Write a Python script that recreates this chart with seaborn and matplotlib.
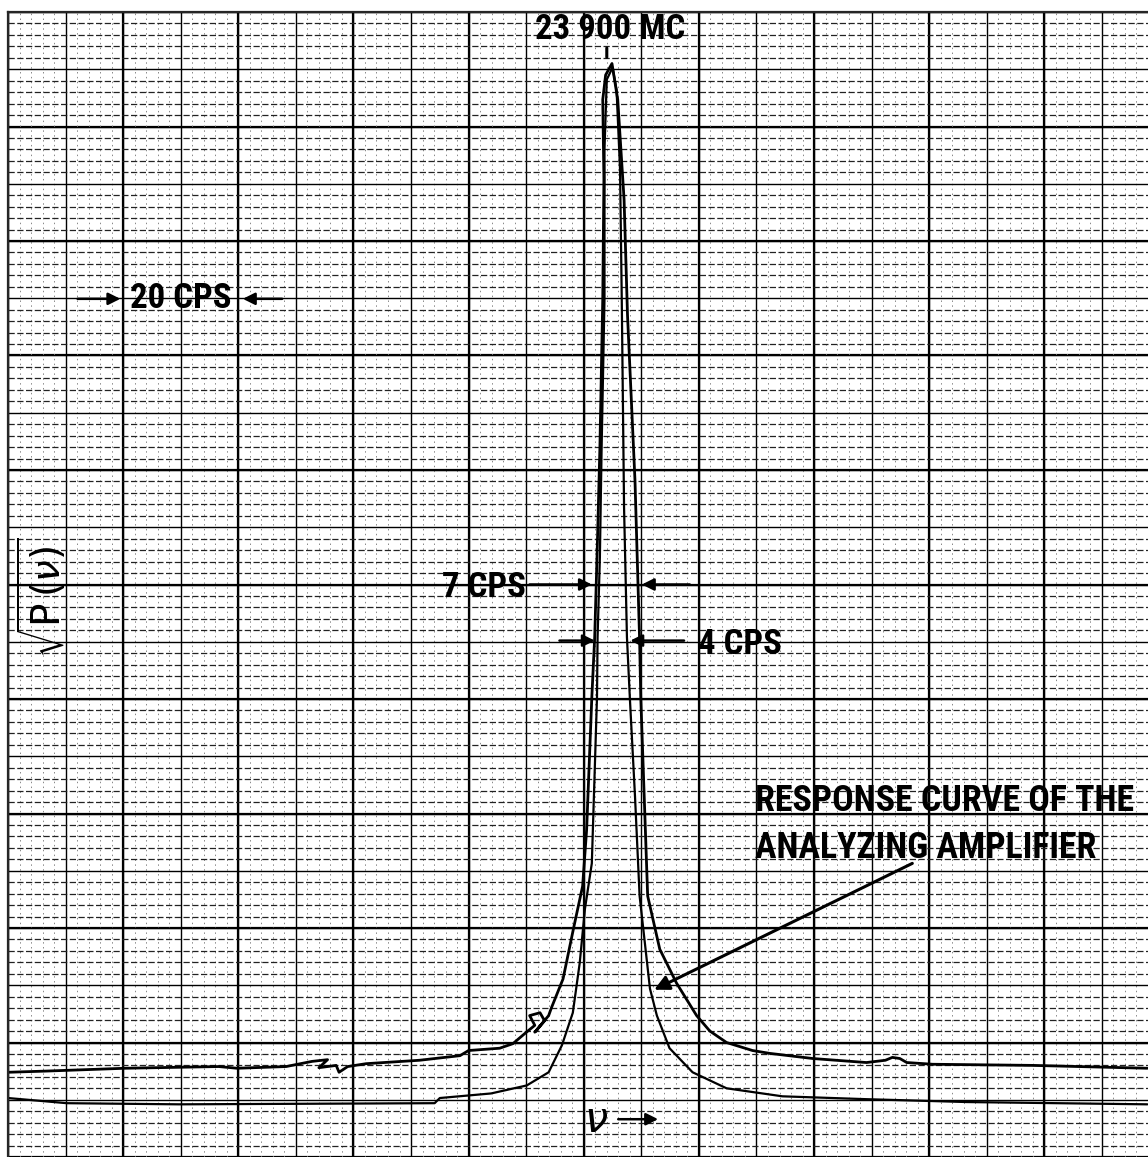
import numpy as np
import pandas as pd
import matplotlib
matplotlib.use("Agg")
import matplotlib.pyplot as plt
import seaborn as sns

# =====================================
# Data (x in CPS from left grid edge, y in chart divisions)
# =====================================

# spectrum trace (upper baseline, wider peak)
spec_x = [0, 6.4, 20.3, 36.6, 39.8, 48.3, 52.8, 55.5, 54.0, 57.0, 57.5, 59.0, 62.2,
          71.5, 78.5, 80.0, 85.4, 87.7, 89.8, 91.5, 90.6, 92.4, 93.2, 91.5, 93.9,
          94.4, 96.4, 98.3, 99.8, 100.5, 101.4, 101.9, 102.3, 102.8, 103.3, 103.5,
          103.3, 103.8, 104.9, 105.9, 107.0, 107.6, 108.9, 109.7, 109.9, 111.1,
          113.2, 116.1, 119.6, 121.9, 124.8, 129.3, 132.3, 139.8, 149.1, 152.4,
          153.6, 154.9, 156.1, 160.6, 178.0, 197.9]
spec_y = [14.8, 15.0, 15.5, 15.8, 15.5, 15.8, 16.7, 17.0, 15.6, 16.0, 14.8, 15.8, 16.3,
          16.9, 17.7, 18.6, 19.0, 19.8, 21.6, 23.0, 24.7, 25.2, 23.8, 21.8, 24.7,
          26.1, 31.1, 40.3, 47.3, 57.2, 80.3, 90.8, 104.7, 123.8, 149.9, 170.8,
          184.7, 189.0, 191.0, 184.7, 167.3, 147.0, 118.1, 90.3, 80.3, 45.6,
          36.3, 30.4, 24.7, 22.0, 20.0, 18.6, 18.1, 17.2, 16.5, 16.9,
          17.4, 17.2, 16.5, 16.2, 16.0, 15.5]

# response curve of the analyzing amplifier (lower baseline, narrower peak)
resp_x = [0, 10.2, 29.7, 74.1, 75.0, 83.9, 90.1, 93.9, 96.2, 98.1, 99.3, 100.2, 101.4,
          102.3, 102.4, 102.8, 103.1, 103.6, 103.6, 104.0, 105.0, 105.7, 106.3,
          106.6, 107.0, 107.5, 108.0, 108.9, 109.7, 111.5, 112.7, 114.9, 118.9,
          124.8, 134.5, 149.1, 166.5, 197.9]
resp_y = [10.3, 9.4, 9.2, 9.4, 10.3, 11.1, 12.5, 14.8, 19.5, 25.2, 33.9, 43.3, 51.3,
          80.3, 90.8, 104.7, 123.8, 149.9, 176.0, 188.2, 190.3, 186.4, 172.5,
          149.9, 113.4, 90.8, 80.3, 63.0, 45.6, 29.4, 24.7, 19.0, 14.8,
          12.0, 10.6, 10.1, 9.6, 9.2]

spec = pd.DataFrame({"nu": spec_x, "amp": spec_y})
resp = pd.DataFrame({"nu": resp_x, "amp": resp_y})

# =====================================
# Figure / chart paper
# =====================================

sns.set_style("white")
plt.rcParams["font.family"] = ["Roboto Condensed", "Liberation Sans Narrow",
                               "DejaVu Sans"]

fig = plt.figure(figsize=(11.48, 11.57), dpi=100)
ax = fig.add_axes([8 / 1148, 0, 1140 / 1148, 1 - 12 / 1157])
ax.set_xlim(0, 197.9)
ax.set_ylim(0.87, 200)

ax.set_xticks(np.arange(0, 200, 10))
ax.set_xticks(np.arange(0, 200, 2), minor=True)
ax.set_yticks(np.arange(0, 201, 10))
ax.set_yticks(np.arange(0, 201, 2), minor=True)
ax.tick_params(which="both", length=0, labelbottom=False, labelleft=False)

ax.grid(which="major", color="black", lw=1.0)
ax.xaxis.grid(which="minor", color="#888888", lw=0.7, ls=(0, (1.5, 3.5)))
ax.yaxis.grid(which="minor", color="#222222", lw=0.9, ls=(0, (5, 2)))
for v in range(0, 200, 20):
    ax.axvline(v, color="black", lw=1.6, zorder=0.5)
for h in range(0, 201, 20):
    ax.axhline(h, color="black", lw=1.6, zorder=0.5)
ax.set_axisbelow(True)

for s in ["right", "bottom"]:
    ax.spines[s].set_visible(False)
ax.spines["left"].set_linewidth(1.6)
ax.spines["top"].set_linewidth(1.6)

# =====================================
# Traces
# =====================================

sns.lineplot(data=spec, x="nu", y="amp", sort=False, estimator=None,
             color="black", lw=2.0, ax=ax)
sns.lineplot(data=resp, x="nu", y="amp", sort=False, estimator=None,
             color="black", lw=1.6, ax=ax)
ax.set_xlabel("")
ax.set_ylabel("")

# =====================================
# Lettering
# =====================================

lab = dict(color="black", fontweight="bold", va="center",
           fontstretch="condensed")
arr = dict(arrowstyle="-|>", color="black", lw=1.8, mutation_scale=18)

ax.text(104.5, 196.9, "23 900 MC", ha="center", fontsize=25, **lab)
ax.annotate("", xy=(104.0, 191.6), xytext=(104.0, 194.2),
            arrowprops=dict(arrowstyle="-", color="black", lw=2.2))

ax.text(30.0, 149.9, "20 CPS", ha="center", fontsize=25, **lab)
ax.annotate("", xy=(20.0, 149.9), xytext=(11.6, 149.9), arrowprops=arr)
ax.annotate("", xy=(40.3, 149.9), xytext=(48.1, 149.9), arrowprops=arr)

ax.text(82.6, 99.5, "7 CPS", ha="center", fontsize=25, **lab)
ax.annotate("", xy=(101.9, 100.0), xytext=(90.1, 100.0), arrowprops=arr)
ax.annotate("", xy=(109.6, 100.0), xytext=(118.9, 100.0), arrowprops=arr)

ax.text(127.1, 89.6, "4 CPS", ha="center", fontsize=25, **lab)
ax.annotate("", xy=(102.4, 90.2), xytext=(95.3, 90.2), arrowprops=arr)
ax.annotate("", xy=(107.6, 90.2), xytext=(117.9, 90.2), arrowprops=arr)

ax.text(129.7, 62.1, "RESPONSE CURVE OF THE", ha="left", fontsize=25.8, **lab)
ax.text(129.7, 53.9, "ANALYZING AMPLIFIER", ha="left", fontsize=25.8, **lab)
ax.annotate("", xy=(111.8, 29.0), xytext=(157.5, 51.5),
            arrowprops=dict(arrowstyle="-|>", color="black", lw=2.2,
                            mutation_scale=22))

ax.text(102.2, 6.4, r"$\nu$", ha="center", va="center", fontsize=30,
        color="black")
ax.annotate("", xy=(113.4, 6.6), xytext=(105.5, 6.6), arrowprops=arr)

ax.text(6.0, 97.7, r"$\sqrt{\mathrm{P}\,(\nu)}$", rotation=90, ha="center",
        va="center", fontsize=28, color="black")

fig.savefig("out.png", dpi=100)
